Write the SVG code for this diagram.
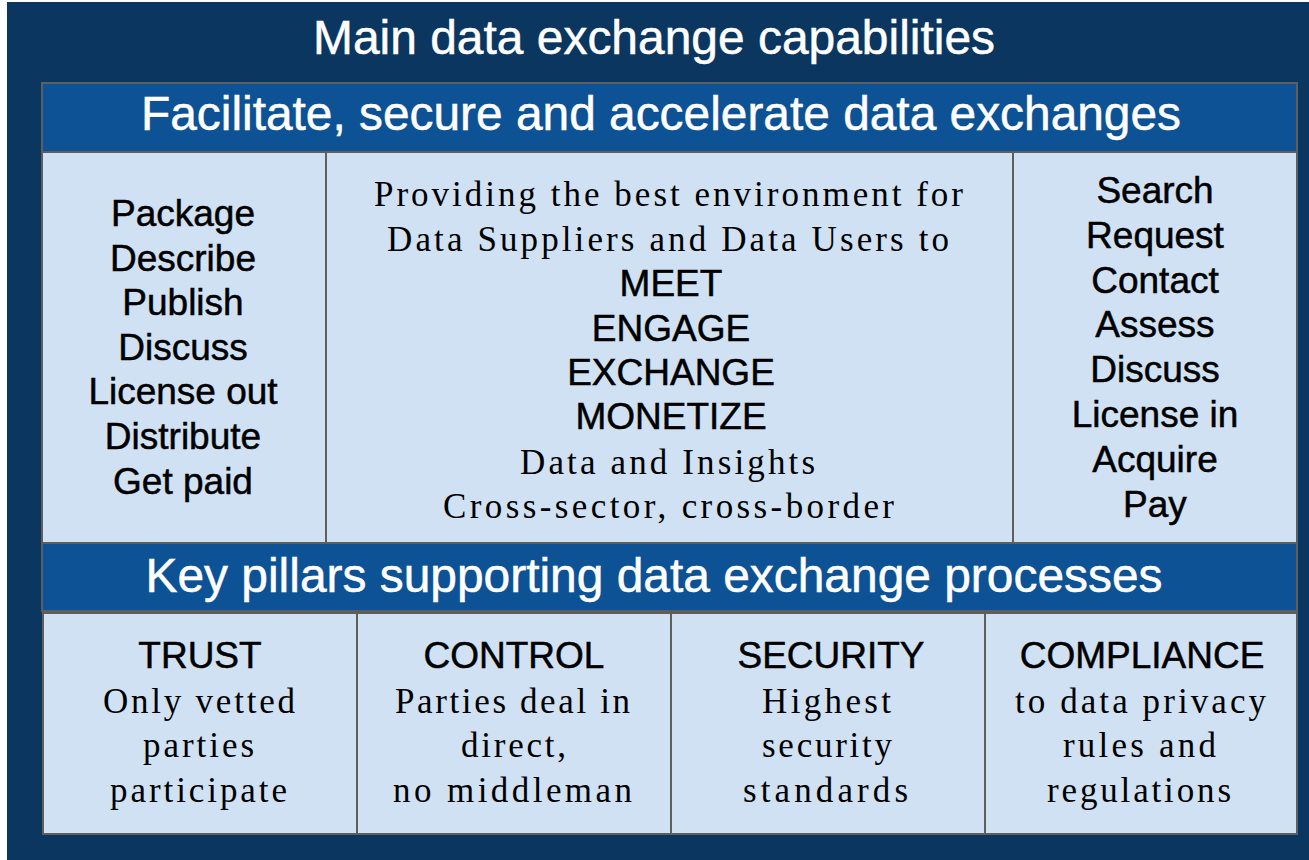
<svg xmlns="http://www.w3.org/2000/svg" width="1309" height="860" viewBox="0 0 1309 860">
  <style>
    .bg { fill: #0a3660; }
    .band { fill: #0d5294; stroke: #5e5e5e; stroke-width: 2; }
    .cell { fill: #cfe1f3; stroke: #5e5e5e; stroke-width: 2; }
    .title { font-family: "Liberation Sans", Arial, sans-serif; fill: #ffffff; stroke: #ffffff; stroke-width: 0.5; text-anchor: middle; }
    .sans { font-family: "Liberation Sans", Arial, sans-serif; font-size: 37px; fill: #000000; stroke: #000000; stroke-width: 0.5; text-anchor: middle; }
    .serif { font-family: "Liberation Serif", "Times New Roman", serif; font-size: 35px; fill: #000000; }
  </style>
  <rect x="0" y="0" width="1309" height="860" fill="#ffffff"/>
  <rect class="bg" x="7" y="2" width="1302" height="858"/>

  <g id="title">
    <text class="title" x="654" y="54" font-size="48" textLength="682" lengthAdjust="spacingAndGlyphs">Main data exchange capabilities</text>
  </g>

  <g id="header-facilitate">
    <rect class="band" x="42" y="83" width="1255" height="69"/>
    <text class="title" x="661" y="130" font-size="48" textLength="1040" lengthAdjust="spacingAndGlyphs">Facilitate, secure and accelerate data exchanges</text>
  </g>

  <g id="cell-suppliers">
    <rect class="cell" x="42" y="152" width="284" height="391"/>
    <text class="sans" x="183" y="226">Package</text>
    <text class="sans" x="183" y="271">Describe</text>
    <text class="sans" x="183" y="315">Publish</text>
    <text class="sans" x="183" y="360">Discuss</text>
    <text class="sans" x="183" y="404">License out</text>
    <text class="sans" x="183" y="449">Distribute</text>
    <text class="sans" x="183" y="494">Get paid</text>
  </g>

  <g id="cell-center">
    <rect class="cell" x="326" y="152" width="687" height="391"/>
    <text class="serif" x="374" y="206" textLength="589" lengthAdjust="spacing">Providing the best environment for</text>
    <text class="serif" x="387" y="251" textLength="562" lengthAdjust="spacing">Data Suppliers and Data Users to</text>
    <text class="sans" x="671" y="296">MEET</text>
    <text class="sans" x="671" y="341">ENGAGE</text>
    <text class="sans" x="671" y="385">EXCHANGE</text>
    <text class="sans" x="671" y="429">MONETIZE</text>
    <text class="serif" x="520" y="474" textLength="295" lengthAdjust="spacing">Data and Insights</text>
    <text class="serif" x="443" y="518" textLength="451" lengthAdjust="spacing">Cross-sector, cross-border</text>
  </g>

  <g id="cell-users">
    <rect class="cell" x="1013" y="152" width="284" height="391"/>
    <text class="sans" x="1155" y="203">Search</text>
    <text class="sans" x="1155" y="248">Request</text>
    <text class="sans" x="1155" y="293">Contact</text>
    <text class="sans" x="1155" y="337">Assess</text>
    <text class="sans" x="1155" y="382">Discuss</text>
    <text class="sans" x="1155" y="427">License in</text>
    <text class="sans" x="1155" y="472">Acquire</text>
    <text class="sans" x="1155" y="517">Pay</text>
  </g>

  <g id="header-pillars">
    <rect class="band" x="42" y="543" width="1255" height="68"/>
    <text class="title" x="654" y="592" font-size="48" textLength="1017" lengthAdjust="spacingAndGlyphs">Key pillars supporting data exchange processes</text>
  </g>

  <g id="pillar-trust">
    <rect class="cell" x="43" y="613" width="314" height="221"/>
    <text class="sans" x="200" y="668">TRUST</text>
    <text class="serif" x="103" y="713" textLength="192" lengthAdjust="spacing">Only vetted</text>
    <text class="serif" x="143" y="757" textLength="111" lengthAdjust="spacing">parties</text>
    <text class="serif" x="110" y="802" textLength="177" lengthAdjust="spacing">participate</text>
  </g>

  <g id="pillar-control">
    <rect class="cell" x="357" y="613" width="314" height="221"/>
    <text class="sans" x="514" y="668">CONTROL</text>
    <text class="serif" x="395" y="713" textLength="235" lengthAdjust="spacing">Parties deal in</text>
    <text class="serif" x="461" y="757" textLength="105" lengthAdjust="spacing">direct,</text>
    <text class="serif" x="393" y="802" textLength="239" lengthAdjust="spacing">no middleman</text>
  </g>

  <g id="pillar-security">
    <rect class="cell" x="671" y="613" width="314" height="221"/>
    <text class="sans" x="831" y="668">SECURITY</text>
    <text class="serif" x="762" y="713" textLength="129" lengthAdjust="spacing">Highest</text>
    <text class="serif" x="762" y="757" textLength="130" lengthAdjust="spacing">security</text>
    <text class="serif" x="743" y="802" textLength="165" lengthAdjust="spacing">standards</text>
  </g>

  <g id="pillar-compliance">
    <rect class="cell" x="985" y="613" width="312" height="221"/>
    <text class="sans" x="1142" y="668">COMPLIANCE</text>
    <text class="serif" x="1015" y="713" textLength="251" lengthAdjust="spacing">to data privacy</text>
    <text class="serif" x="1063" y="757" textLength="153" lengthAdjust="spacing">rules and</text>
    <text class="serif" x="1047" y="802" textLength="184" lengthAdjust="spacing">regulations</text>
  </g>
</svg>
